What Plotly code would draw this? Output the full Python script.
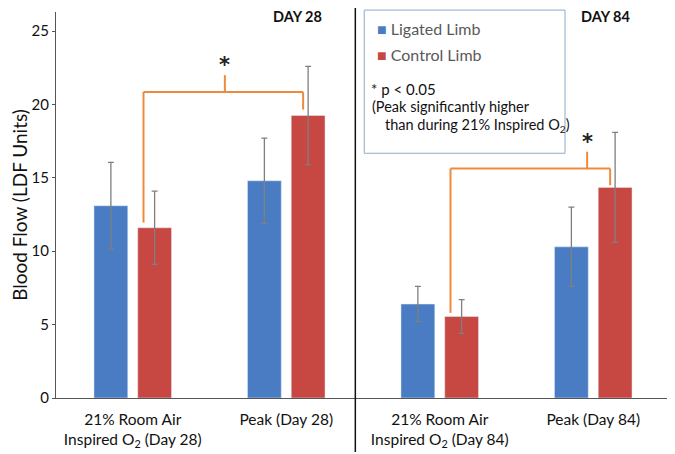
import plotly.graph_objects as go

# groups on the x axis (tick text uses html for the subscript)
categories = [
    "21% Room Air<br>Inspired O<sub>2</sub> (Day 28)",
    "Peak (Day 28)",
    "21% Room Air<br>Inspired O<sub>2</sub> (Day 84)",
    "Peak (Day 84)",
]
ligated = [13.1, 14.8, 6.4, 10.3]
ligated_err = [2.95, 2.9, 1.2, 2.7]
control = [11.6, 19.25, 5.55, 14.35]
control_err = [2.5, 3.35, 1.15, 3.75]

# significance brackets: (from category, to category, bar-top levels, bracket level)
brackets = [
    dict(i0=0, i1=1, left=11.95, right=19.65, level=20.85, top=22.0),
    dict(i0=2, i1=3, left=5.8, right=14.5, level=15.63, top=16.78),
]
panel_titles = ["DAY 28", "DAY 84"]

BLUE = "#4A7CC4"
RED = "#C74843"
ORANGE = "#EE8A3C"
FONT = "Lato"

fig = go.Figure()
fig.add_trace(go.Bar(
    x=categories, y=ligated, name="Ligated Limb", marker_color=BLUE,
    error_y=dict(type="data", array=ligated_err, color="#7f7f7f", thickness=1.3, width=3),
    showlegend=False))
fig.add_trace(go.Bar(
    x=categories, y=control, name="Control Limb", marker_color=RED,
    error_y=dict(type="data", array=control_err, color="#7f7f7f", thickness=1.3, width=3),
    showlegend=False))

shapes = []
annotations = []
for b in brackets:
    xl, xr = b["i0"] + 0.07, b["i1"] + 0.11
    xm = b["i0"] + 0.6 if b["i0"] == 0 else b["i0"] + 0.96
    line = dict(color=ORANGE, width=2)
    shapes += [
        dict(type="line", xref="x", yref="y", x0=xl, x1=xl, y0=b["left"], y1=b["level"], line=line),
        dict(type="line", xref="x", yref="y", x0=xl, x1=xr, y0=b["level"], y1=b["level"], line=line),
        dict(type="line", xref="x", yref="y", x0=xr, x1=xr, y0=b["right"], y1=b["level"], line=line),
        dict(type="line", xref="x", yref="y", x0=xm, x1=xm, y0=b["level"], y1=b["top"], line=line),
    ]
    annotations.append(dict(x=xm, y=b["top"], xref="x", yref="y", text="<b>*</b>",
                            showarrow=False, yanchor="bottom", yshift=-4,
                            font=dict(size=21, color="#222", family="DejaVu Sans")))

# black divider between the two time points
shapes.append(dict(type="line", xref="x", yref="paper", x0=1.45, x1=1.45,
                   y0=-0.14, y1=1.04, line=dict(color="#111", width=1.5)))
# key box
shapes.append(dict(type="rect", xref="paper", yref="paper", x0=0.502, x1=0.829,
                   y0=0.634, y1=1.005, line=dict(color="#8eaacc", width=1),
                   fillcolor="rgba(0,0,0,0)"))

for txt, x in zip(panel_titles, [1.07, 3.08]):
    annotations.append(dict(x=x, y=1.0, xref="x", yref="paper", text=f"<b>{txt}</b>",
                            showarrow=False, yanchor="middle", yshift=-4,
                            font=dict(size=14.5, color="#111", family=FONT)))

key = [
    (0.519, 0.958, f"<span style='color:{BLUE}'>■</span> Ligated Limb", "#595959", 16),
    (0.519, 0.889, f"<span style='color:{RED}'>■</span> Control Limb", "#595959", 16),
    (0.509, 0.801, "* p &lt; 0.05", "#111", 15),
    (0.512, 0.754, "(Peak significantly higher", "#111", 14.5),
    (0.533, 0.706, "than during 21% Inspired O<sub>2</sub>)", "#111", 14.5),
]
for x, y, txt, col, size in key:
    annotations.append(dict(x=x, y=y, xref="paper", yref="paper", text=txt,
                            showarrow=False, xanchor="left", yanchor="middle",
                            font=dict(size=size, color=col, family=FONT)))

# page body adds an 8px margin, so the figure is drawn 8px smaller
fig.update_layout(
    width=667, height=446,
    margin=dict(l=45, r=5, t=4, b=54),
    paper_bgcolor="white", plot_bgcolor="white",
    barmode="group", bargap=0.43, bargroupgap=0.227,
    font=dict(family=FONT, size=15, color="#222"),
    shapes=shapes, annotations=annotations,
    xaxis=dict(showline=True, linecolor="#555", linewidth=1.2, ticks="outside",
               ticklen=7, tickcolor="rgba(0,0,0,0)", showgrid=False,
               tickfont=dict(size=15.5, color="#111")),
    yaxis=dict(range=[0, 26.3], dtick=5, showline=True, linecolor="#555", linewidth=1.2,
               ticks="outside", ticklen=3, tickcolor="#555", showgrid=False, zeroline=False,
               tickfont=dict(size=15, color="#111"),
               title=dict(text="Blood Flow (LDF Units)", font=dict(size=19, color="#111"),
                          standoff=6)),
)

fig.write_html("out.html")
